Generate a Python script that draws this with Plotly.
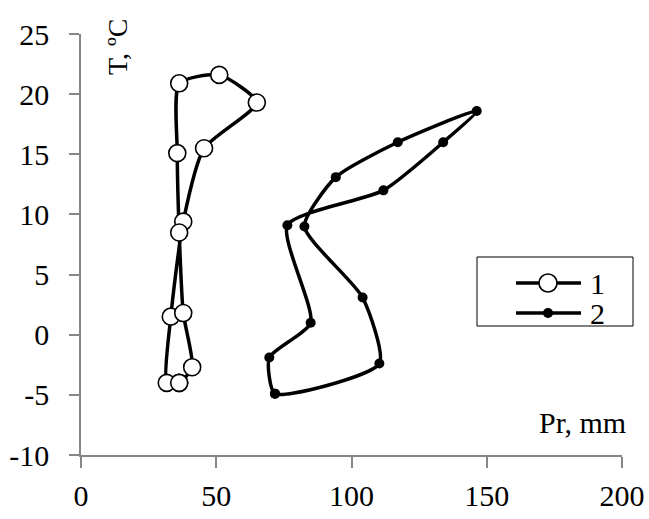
import plotly.graph_objects as go

# Monthly precipitation (mm) and mean temperature (°C), Jan..Dec, loop closed on Jan
months = ["Jan", "Feb", "Mar", "Apr", "May", "Jun", "Jul", "Aug", "Sep", "Oct", "Nov", "Dec"]

pr_1 = [36.3, 31.7, 33.2, 37.8, 45.5, 65.0, 51.1, 36.3, 35.6, 36.3, 37.8, 41.1]
t_1 = [-4.0, -4.0, 1.5, 9.4, 15.5, 19.3, 21.6, 20.9, 15.1, 8.5, 1.8, -2.7]

pr_2 = [71.7, 69.6, 84.9, 76.3, 111.8, 133.9, 146.3, 117.1, 94.2, 82.6, 104.1, 110.3]
t_2 = [-4.9, -1.9, 1.0, 9.1, 12.0, 16.0, 18.6, 16.0, 13.1, 9.0, 3.1, -2.4]

series_names = ["1", "2"]

x_ticks = [0, 50, 100, 150, 200]
y_ticks = [-10, -5, 0, 5, 10, 15, 20, 25]

FONT = "Liberation Serif"
AXIS_GREY = "#868686"

W, H = 649, 519
ML, MR, MT, MB = 81, 27, 34, 64
PW, PH = W - ML - MR, H - MT - MB


def px_x(p):
    """Pixel column -> paper x."""
    return (p - ML) / PW


def px_y(p):
    """Pixel row -> paper y."""
    return (H - MB - p) / PH


def closed(values):
    return list(values) + [values[0]]


line_style = dict(color="black", width=3.5, shape="spline", smoothing=0.6)
marker_1 = dict(symbol="circle", size=17, color="white", line=dict(color="black", width=1.6))
marker_2 = dict(symbol="circle", size=10, color="black")

fig = go.Figure()
fig.add_trace(go.Scatter(x=closed(pr_1), y=closed(t_1), name=series_names[0],
                         mode="lines+markers", line=line_style, marker=marker_1,
                         showlegend=False))
fig.add_trace(go.Scatter(x=closed(pr_2), y=closed(t_2), name=series_names[1],
                         mode="lines+markers", line=line_style, marker=marker_2,
                         showlegend=False))

axis_common = dict(
    showline=True, linecolor=AXIS_GREY, linewidth=1.5,
    ticks="outside", tickcolor=AXIS_GREY, tickwidth=1.5,
    showgrid=False, zeroline=False, automargin=False,
    tickfont=dict(family=FONT, size=30, color="black"),
)

fig.update_xaxes(range=[0, 200], tickvals=x_ticks, ticktext=[str(v) for v in x_ticks],
                 ticklen=11, ticklabelstandoff=2, **axis_common)
fig.update_yaxes(range=[-10, 25], tickvals=y_ticks, ticktext=[str(v) for v in y_ticks],
                 ticklen=10, ticklabelstandoff=14, **axis_common)

# Boxed key: sample line with its marker, then the series label
shapes = [dict(type="rect", xref="paper", yref="paper",
               x0=px_x(477), x1=px_x(633), y0=px_y(257), y1=px_y(326),
               line=dict(color="black", width=1), fillcolor="white", layer="above")]
annotations = []
key_rows = [(283, 18, "white", 1.6), (313, 10, "black", 0)]
for name, (row, size, fill, edge) in zip(series_names, key_rows):
    shapes.append(dict(type="line", xref="paper", yref="paper",
                       x0=px_x(516), x1=px_x(581), y0=px_y(row), y1=px_y(row),
                       line=dict(color="black", width=3.5), layer="above"))
    shapes.append(dict(type="circle", xref="paper", yref="paper",
                       xsizemode="pixel", ysizemode="pixel",
                       xanchor=px_x(548), yanchor=px_y(row),
                       x0=-size / 2, x1=size / 2, y0=-size / 2, y1=size / 2,
                       fillcolor=fill, line=dict(color="black", width=edge if edge else 0.1),
                       layer="above"))
    annotations.append(dict(text=name, xref="paper", yref="paper",
                            x=px_x(588), y=px_y(row), xanchor="left", yanchor="middle",
                            showarrow=False, font=dict(family=FONT, size=30, color="black")))

annotations += [
    dict(text="T, ºC", textangle=-90, xref="paper", yref="paper",
         x=px_x(117), y=px_y(47), xanchor="center", yanchor="middle",
         showarrow=False, font=dict(family=FONT, size=28, color="black")),
    dict(text="Pr, mm", xref="paper", yref="paper",
         x=px_x(582), y=px_y(422), xanchor="center", yanchor="middle",
         showarrow=False, font=dict(family=FONT, size=30, color="black")),
]

fig.update_layout(
    width=W, height=H, autosize=False,
    margin=dict(l=ML, r=MR, t=MT, b=MB),
    plot_bgcolor="white", paper_bgcolor="white",
    font=dict(family=FONT, color="black"),
    showlegend=False,
    shapes=shapes,
    annotations=annotations,
)

fig.write_html("out.html")
